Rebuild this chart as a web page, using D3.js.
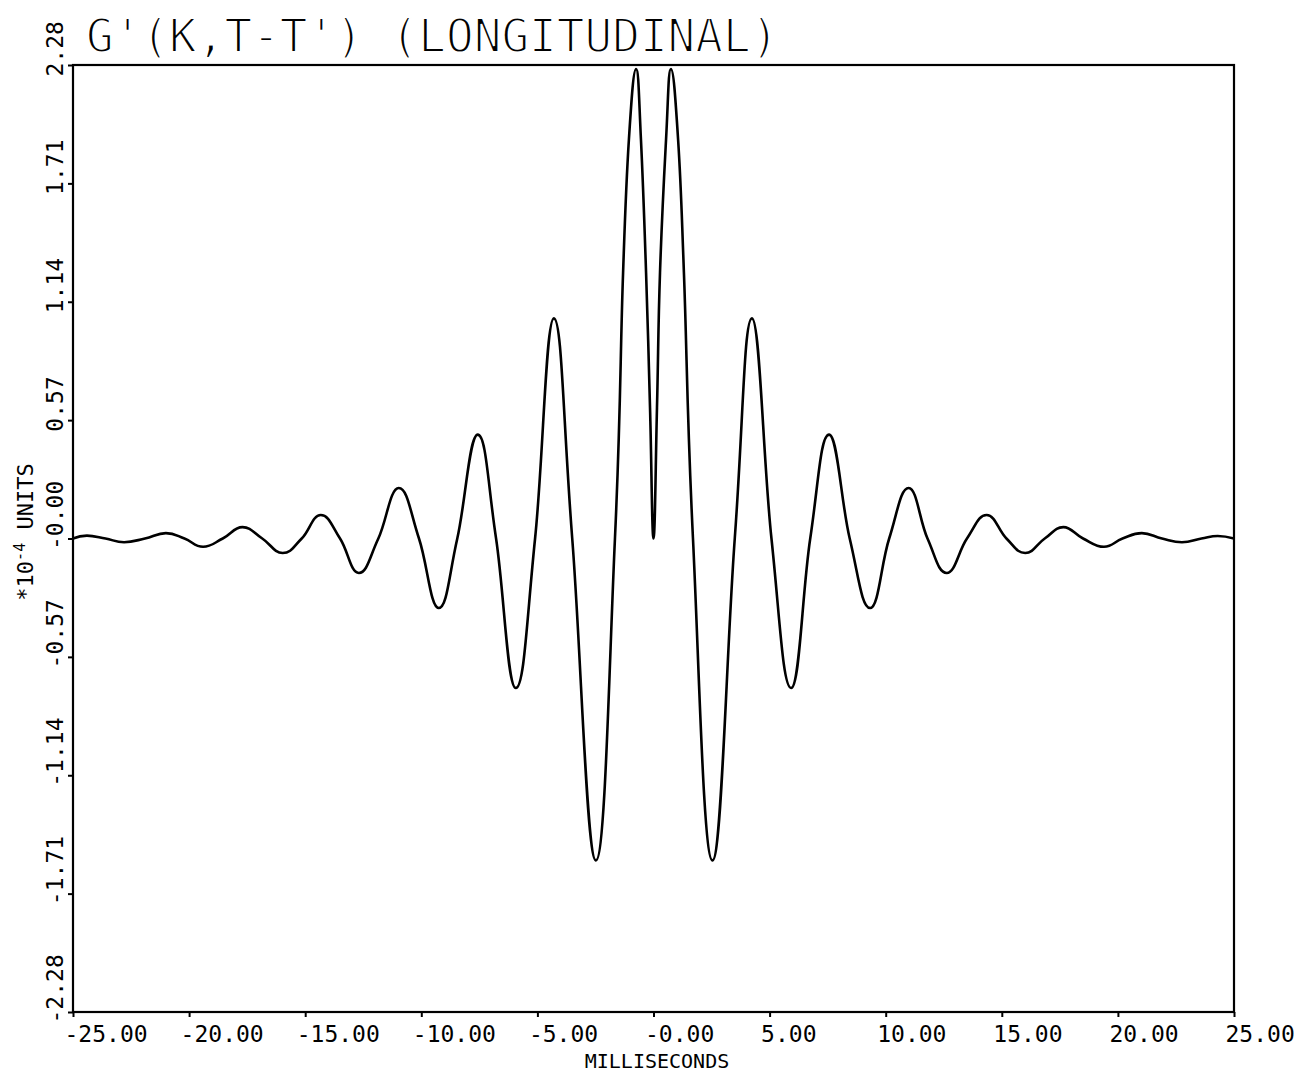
<!DOCTYPE html>
<html>
<head>
<meta charset="utf-8">
<script src="https://cdn.jsdelivr.net/npm/d3@7"></script>
<style>
  body { margin: 0; background: #fff; }
  text { font-family: "DejaVu Sans Mono", "Liberation Mono", monospace; fill: #000; }
</style>
</head>
<body>
<svg id="chart" width="1302" height="1076"></svg>
<script>
// time axis (milliseconds)
const timeMs = [
  -25.0, -24.4, -23.6, -22.8, -21.9, -21.0, -20.2, -19.4, -18.55, -17.7,
  -16.85, -15.97, -15.15, -14.33, -13.5, -12.69, -11.85, -10.97, -10.1, -9.25,
  -8.45, -7.57, -6.78, -5.93, -5.1, -4.29, -3.5, -2.48, -1.66,
  -1.31, -1.06, -0.75, -0.54, -0.32, -0.15, 0.0,
  0.15, 0.28, 0.54, 0.75, 1.06, 1.31, 1.70, 2.54,
  3.5, 4.24, 5.08, 5.93, 6.75, 7.56, 8.45, 9.33, 10.15, 10.99,
  11.8, 12.63, 13.5, 14.35, 15.2, 16.01, 16.85, 17.65, 18.5, 19.4,
  20.2, 21.03, 21.9, 22.76, 23.6, 24.3, 25.0
];

// G'(K,T-T') in units of 1e-4
const gValues = [
  0.0, 0.014, 0.0, -0.018, 0.0, 0.026, 0.0, -0.04, 0.0, 0.055,
  0.0, -0.07, 0.0, 0.113, 0.0, -0.166, 0.0, 0.243, 0.0, -0.335,
  0.0, 0.50, 0.0, -0.72, 0.0, 1.06, 0.0, -1.55, 0.0,
  1.28, 1.92, 2.26, 1.92, 1.28, 0.63, 0.0,
  0.63, 1.28, 1.92, 2.26, 1.92, 1.28, 0.0, -1.55,
  0.0, 1.06, 0.0, -0.72, 0.0, 0.50, 0.0, -0.335, 0.0, 0.243,
  0.0, -0.166, 0.0, 0.113, 0.0, -0.07, 0.0, 0.055, 0.0, -0.04,
  0.0, 0.026, 0.0, -0.018, 0.0, 0.012, 0.0
];

const xTicks = [-25, -20, -15, -10, -5, 0, 5, 10, 15, 20, 25];
const xTickLabels = ["-25.00", "-20.00", "-15.00", "-10.00", "-5.00", "-0.00", "5.00", "10.00", "15.00", "20.00", "25.00"];
const yTicks = [2.28, 1.71, 1.14, 0.57, 0, -0.57, -1.14, -1.71, -2.28];
const yTickLabels = ["2.28", "1.71", "1.14", "0.57", "-0.00", "-0.57", "-1.14", "-1.71", "-2.28"];

const data = timeMs.map((t, i) => ({ t: t, v: gValues[i] }));

const svg = d3.select("#chart");
const plotLeft = 73, plotRight = 1234, plotTop = 65, plotBottom = 1012;

const xScale = d3.scaleLinear().domain([-25, 25]).range([plotLeft, plotRight]);
const yScale = d3.scaleLinear().domain([-2.28, 2.28]).range([plotBottom, plotTop]);

// title (white stroke on top thins the glyphs toward the plotter's pen weight)
svg.append("text")
  .attr("x", 86)
  .attr("y", 52)
  .attr("font-size", "46px")
  .attr("stroke", "#fff")
  .attr("stroke-width", 1.8)
  .text("G'(K,T-T') (LONGITUDINAL)");

// x axis: ticks + labels hanging just right of the tick
const xAxis = d3.axisBottom(xScale)
  .tickValues(xTicks)
  .tickSize(5)
  .tickSizeOuter(0)
  .tickFormat((d, i) => xTickLabels[i]);

const gx = svg.append("g")
  .attr("transform", `translate(0,${plotBottom})`)
  .call(xAxis);
gx.select(".domain").remove();
gx.selectAll("line").attr("stroke", "#000").attr("stroke-width", 2);
gx.selectAll("text")
  .attr("font-size", "23px")
  .attr("text-anchor", "start")
  .attr("x", -9)
  .attr("y", 30)
  .attr("dy", 0)
  .style("font-family", "DejaVu Sans Mono, monospace");

// y axis: rotated labels reading upward from each tick
const yAxis = d3.axisLeft(yScale)
  .tickValues(yTicks)
  .tickSize(5)
  .tickSizeOuter(0)
  .tickFormat((d, i) => yTickLabels[i]);

const gy = svg.append("g")
  .attr("transform", `translate(${plotLeft},0)`)
  .call(yAxis);
gy.select(".domain").remove();
gy.selectAll("line").attr("stroke", "#000").attr("stroke-width", 2);
gy.selectAll("text")
  .attr("font-size", "23px")
  .attr("text-anchor", "start")
  .attr("transform", "rotate(-90)")
  .attr("x", -11)
  .attr("y", -10)
  .attr("dy", 0)
  .style("font-family", "DejaVu Sans Mono, monospace");

// frame
svg.append("rect")
  .attr("x", plotLeft)
  .attr("y", plotTop)
  .attr("width", plotRight - plotLeft)
  .attr("height", plotBottom - plotTop)
  .attr("fill", "none")
  .attr("stroke", "#000")
  .attr("stroke-width", 2.2);

// axis titles
svg.append("text")
  .attr("x", 657)
  .attr("y", 1068)
  .attr("font-size", "20px")
  .attr("text-anchor", "middle")
  .text("MILLISECONDS");

const yTitle = svg.append("text")
  .attr("transform", "translate(33,532) rotate(-90)")
  .attr("font-size", "22px")
  .attr("text-anchor", "middle");
yTitle.append("tspan").text("*10");
yTitle.append("tspan").attr("font-size", "15px").attr("dy", -8).text("-4");
yTitle.append("tspan").attr("dy", 8).text(" UNITS");

// the curve
const line = d3.line()
  .x(d => xScale(d.t))
  .y(d => yScale(d.v))
  .curve(d3.curveCardinal.tension(-0.3));

svg.append("path")
  .datum(data)
  .attr("fill", "none")
  .attr("stroke", "#000")
  .attr("stroke-width", 2.6)
  .attr("stroke-linejoin", "round")
  .attr("d", line);
</script>
</body>
</html>
